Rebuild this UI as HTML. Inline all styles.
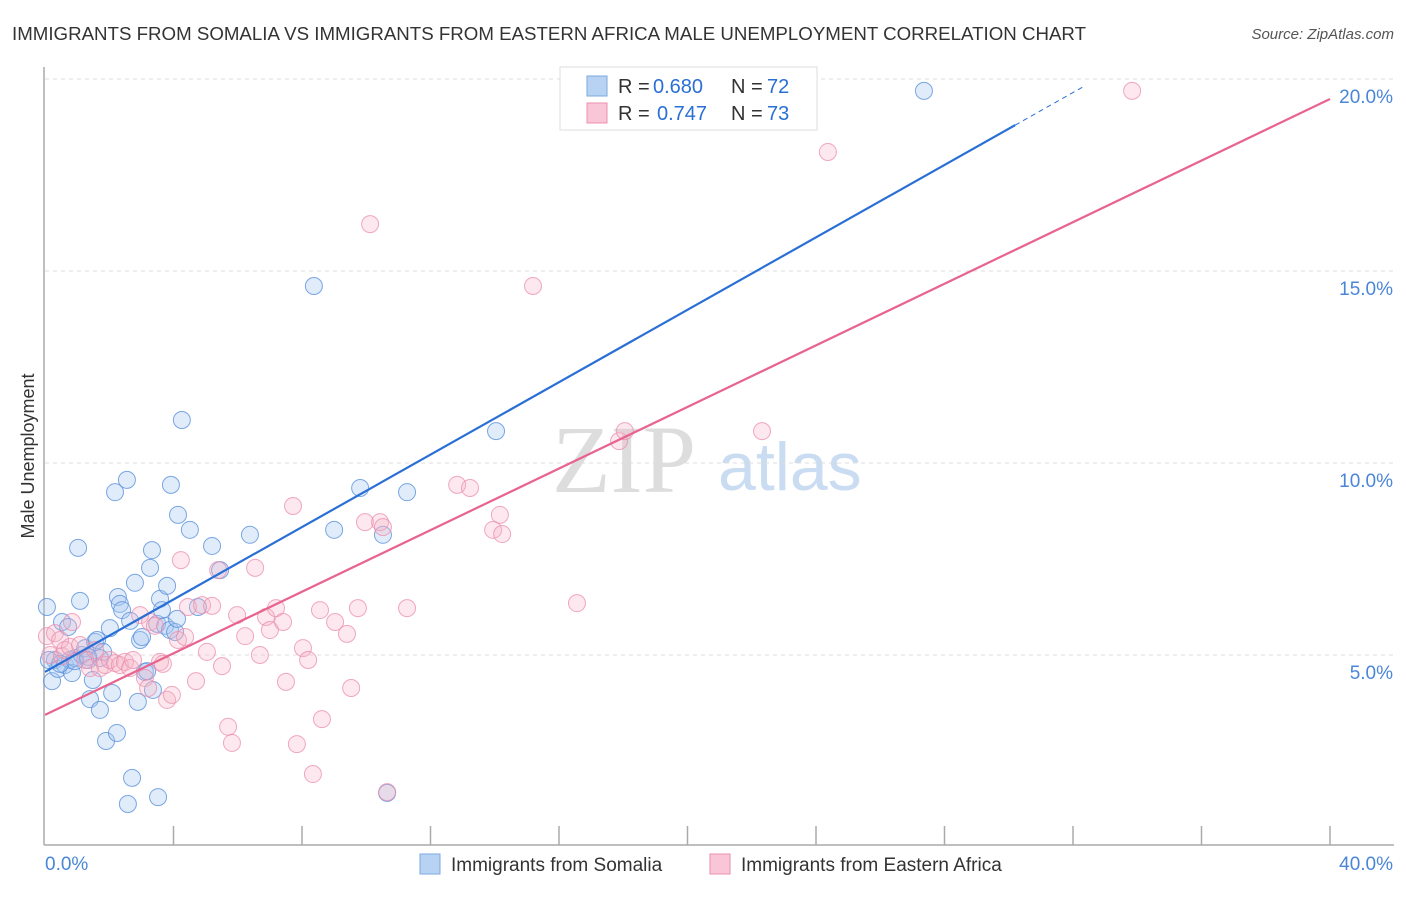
<!DOCTYPE html>
<html><head><meta charset="utf-8"><style>
body{margin:0;background:#fff;font-family:"Liberation Sans",sans-serif;}
svg text{font-family:"Liberation Sans",sans-serif;}
svg text.serif{font-family:"Liberation Serif",serif;}
</style></head><body>
<svg id="chart" width="1406" height="892" xmlns="http://www.w3.org/2000/svg">
<text x="12" y="40" font-size="18" fill="#333" textLength="1074" lengthAdjust="spacingAndGlyphs">IMMIGRANTS FROM SOMALIA VS IMMIGRANTS FROM EASTERN AFRICA MALE UNEMPLOYMENT CORRELATION CHART</text>
<text x="1394" y="39" font-size="15" fill="#555" text-anchor="end" font-style="italic">Source: ZipAtlas.com</text>
<text x="34" y="456" font-size="18" fill="#333" text-anchor="middle" transform="rotate(-90 34 456)">Male Unemployment</text>
<text class="serif" x="552" y="492" font-size="96" fill="#ddd">ZIP</text>
<text x="718" y="490" font-size="68" fill="#c9dcf1">atlas</text>
<g id="grid"></g><g id="pts"></g><g id="lines"></g>
<g>
<rect x="560" y="67" width="257" height="63" fill="#fff" stroke="#ddd"/>
<rect x="587" y="76" width="20" height="20" fill="#b8d2f3" stroke="#7aaae0"/>
<text x="618" y="93" font-size="20" fill="#333">R =</text>
<text x="653" y="93" font-size="20" fill="#2a6fd6">0.680</text>
<text x="731" y="93" font-size="20" fill="#333">N =</text>
<text x="767" y="93" font-size="20" fill="#2a6fd6">72</text>
<rect x="587" y="103" width="20" height="20" fill="#f8c6d6" stroke="#ee8fae"/>
<text x="618" y="120" font-size="20" fill="#333">R =</text>
<text x="657" y="120" font-size="20" fill="#2a6fd6">0.747</text>
<text x="731" y="120" font-size="20" fill="#333">N =</text>
<text x="767" y="120" font-size="20" fill="#2a6fd6">73</text>
</g>
<g>
<rect x="420" y="854" width="20" height="20" fill="#b8d2f3" stroke="#7aaae0"/>
<text x="451" y="871" font-size="19" fill="#333">Immigrants from Somalia</text>
<rect x="710" y="854" width="20" height="20" fill="#f8c6d6" stroke="#ee8fae"/>
<text x="741" y="871" font-size="19" fill="#333">Immigrants from Eastern Africa</text>
</g>
</svg>
<script>
const yTicks=[5,10,15,20];
const yTickLabels=["5.0%","10.0%","15.0%","20.0%"];
const xTicks=[0,4,8,12,16,20,24,28,32,36,40];
const blueX=[0.06,0.22,0.31,0.40,0.53,0.62,0.72,0.78,0.84,0.93,1.03,1.09,1.15,1.25,1.34,1.40,1.49,1.56,1.62,1.71,1.81,1.90,2.02,2.09,2.18,2.24,2.27,2.33,2.40,2.55,2.65,2.71,2.80,2.89,2.96,3.02,3.11,3.18,3.27,3.33,3.36,3.49,3.52,3.58,3.64,3.74,3.80,3.89,3.92,4.05,4.14,4.11,4.26,4.51,4.76,5.20,5.45,6.38,8.37,9.00,9.81,10.52,10.65,11.27,14.04,27.36,2.58,0.12,0.47,1.71,0.93,1.34];
const blueY=[6.25,4.32,4.87,4.64,5.86,4.74,5.73,4.87,4.53,4.92,7.79,6.41,5.0,5.18,4.87,3.85,4.35,5.34,5.39,3.57,5.08,2.76,5.70,4.01,9.24,2.97,6.51,6.33,6.17,9.56,5.89,1.80,6.88,3.78,5.39,5.47,4.56,4.58,7.27,7.73,4.09,5.81,1.30,6.46,6.17,5.76,6.80,5.65,9.43,5.60,8.65,5.94,11.12,8.26,6.25,7.84,7.21,8.13,14.61,8.26,9.35,8.13,1.41,9.24,10.83,19.69,1.12,4.87,4.77,4.92,4.84,4.95];
const pinkX=[0.06,0.16,0.31,0.47,0.53,0.62,0.78,0.84,1.09,1.25,1.40,1.56,1.71,1.87,2.02,2.18,2.33,2.49,2.65,2.74,2.96,3.11,3.21,3.27,3.42,3.58,3.67,3.80,3.95,4.14,4.23,4.36,4.45,4.70,4.89,5.04,5.20,5.39,5.51,5.70,5.82,5.98,6.23,6.54,6.69,6.88,7.00,7.19,7.41,7.50,7.72,7.84,8.03,8.19,8.34,8.56,8.62,9.03,9.40,9.53,9.74,9.96,10.12,10.43,10.52,10.65,11.27,12.83,13.23,13.95,14.16,14.23,15.19,16.56,17.87,18.05,22.32,24.37,33.84];
const pinkY=[5.49,5.0,5.57,5.39,4.97,5.13,5.21,5.86,5.26,4.87,4.66,5.13,4.66,4.74,4.87,4.79,4.74,4.82,4.66,4.87,6.04,4.40,4.14,5.86,5.76,4.82,4.77,3.83,3.96,5.39,7.47,5.47,6.25,4.32,6.30,5.08,6.28,7.21,4.71,3.13,2.71,6.04,5.49,7.27,5.0,5.99,5.65,6.22,5.86,4.30,8.88,2.68,5.18,4.87,1.90,6.17,3.33,5.86,5.55,4.14,6.22,8.46,16.22,8.46,8.33,1.43,6.22,9.43,9.35,8.26,8.65,8.15,14.61,6.35,10.57,10.83,10.83,18.10,19.69];
const blueTrend=[4.56,0.4715];
const pinkTrend=[3.44,0.401];
const NS="http://www.w3.org/2000/svg";
const sx=v=>45+v*1285/40;
const sy=v=>847-v*38.4;
function mk(tag,attrs,parent){const e=document.createElementNS(NS,tag);for(const k in attrs)e.setAttribute(k,attrs[k]);document.getElementById(parent).appendChild(e);return e;}
let e;
e=mk('line',{x1:44,y1:67,x2:44,y2:845,stroke:'#aaa','stroke-width':1.5},'grid');


e=mk('line',{x1:44,y1:845,x2:1394,y2:845,stroke:'#aaa','stroke-width':1.5},'grid');


yTicks.forEach((t,i)=>{
 e=mk('line',{x1:45,y1:sy(t),x2:1394,y2:sy(t),stroke:'#ddd','stroke-dasharray':'4,4'},'grid');
 
 
 e=mk('text',{x:1393,y:sy(t)+24,'font-size':19,fill:'#4a86d8','text-anchor':'end'},'grid');
 e.textContent=yTickLabels[i];
 
 
});
xTicks.forEach(t=>{
 if(t===0)return;
 e=mk('line',{x1:sx(t),y1:826,x2:sx(t),y2:845,stroke:'#aaa','stroke-width':1.5},'grid');
 
 
});
e=mk('text',{x:45,y:870,'font-size':19,fill:'#4a86d8'},'grid');e.textContent='0.0%';


e=mk('text',{x:1393,y:870,'font-size':19,fill:'#4a86d8','text-anchor':'end'},'grid');e.textContent='40.0%';


blueX.forEach((x,i)=>{
 e=mk('circle',{cx:sx(x),cy:sy(blueY[i]),r:8.5,fill:'rgba(170,200,240,0.35)',stroke:'rgba(90,145,220,0.8)','stroke-width':1},'pts');
 
 
});
pinkX.forEach((x,i)=>{
 e=mk('circle',{cx:sx(x),cy:sy(pinkY[i]),r:8.5,fill:'rgba(245,180,200,0.3)',stroke:'rgba(235,140,172,0.75)','stroke-width':1},'pts');
 
 
});
e=mk('line',{x1:sx(0),y1:sy(blueTrend[0]),x2:sx(30.2),y2:sy(blueTrend[0]+blueTrend[1]*30.2),stroke:'#2a6fd6','stroke-width':2.2},'lines');


e=mk('line',{x1:sx(30.2),y1:sy(blueTrend[0]+blueTrend[1]*30.2),x2:sx(32.4),y2:sy(blueTrend[0]+blueTrend[1]*32.4),stroke:'#2a6fd6','stroke-width':1,'stroke-dasharray':'5,4'},'lines');


e=mk('line',{x1:sx(0),y1:sy(pinkTrend[0]),x2:sx(40),y2:sy(pinkTrend[0]+pinkTrend[1]*40),stroke:'#e8648f','stroke-width':2.2},'lines');


</script>
</body></html>
